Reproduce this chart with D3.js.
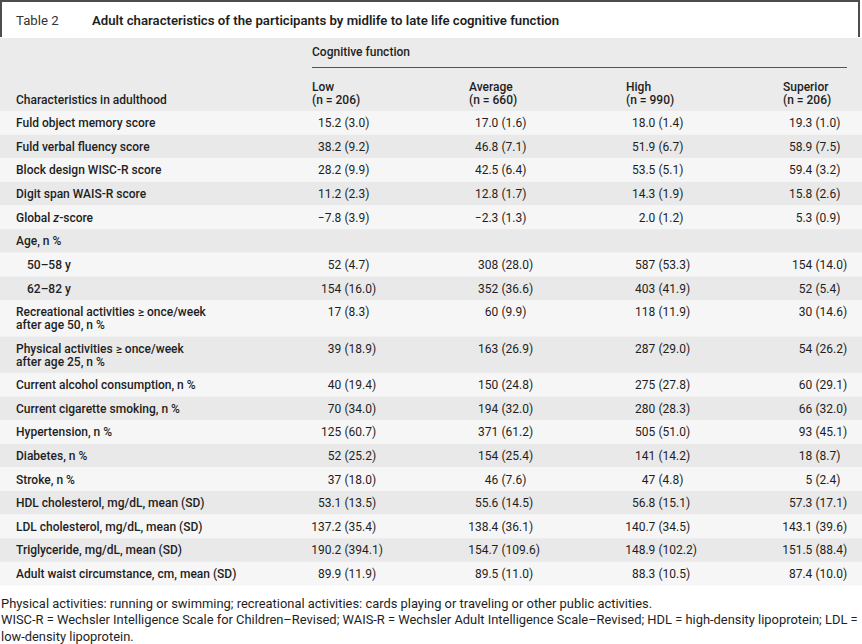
<!DOCTYPE html>
<html>
<head>
<meta charset="utf-8">
<script src="https://cdn.jsdelivr.net/npm/d3@7"></script>
<style>
  html, body { margin: 0; padding: 0; background: #fff; }
  svg { display: block; }
  text { font-family: Roboto, "Liberation Sans", sans-serif; fill: #1e1e1e; }
</style>
</head>
<body>
<svg id="chart" width="862" height="644"></svg>
<script>
// ---------- data ----------
const tableNumber = "Table 2";
const tableTitle = "Adult characteristics of the participants by midlife to late life cognitive function";
const spannerLabel = "Cognitive function";
const stubHeader = "Characteristics in adulthood";
const columns = ["Low", "Average", "High", "Superior"];
const columnN = [206, 660, 990, 206];

const rowLabels = [
  "Fuld object memory score",
  "Fuld verbal fluency score",
  "Block design WISC-R score",
  "Digit span WAIS-R score",
  "Global |z|-score",
  "Age, n %",
  "50–58 y",
  "62–82 y",
  "Recreational activities ≥ once/week\nafter age 50, n %",
  "Physical activities ≥ once/week\nafter age 25, n %",
  "Current alcohol consumption, n %",
  "Current cigarette smoking, n %",
  "Hypertension, n %",
  "Diabetes, n %",
  "Stroke, n %",
  "HDL cholesterol, mg/dL, mean (SD)",
  "LDL cholesterol, mg/dL, mean (SD)",
  "Triglyceride, mg/dL, mean (SD)",
  "Adult waist circumstance, cm, mean (SD)"
];
const rowLevel = [0,0,0,0,0,0,1,1,0,0,0,0,0,0,0,0,0,0,0];

const lowValues = ["15.2 (3.0)","38.2 (9.2)","28.2 (9.9)","11.2 (2.3)","−7.8 (3.9)","","52 (4.7)","154 (16.0)","17 (8.3)","39 (18.9)","40 (19.4)","70 (34.0)","125 (60.7)","52 (25.2)","37 (18.0)","53.1 (13.5)","137.2 (35.4)","190.2 (394.1)","89.9 (11.9)"];
const averageValues = ["17.0 (1.6)","46.8 (7.1)","42.5 (6.4)","12.8 (1.7)","−2.3 (1.3)","","308 (28.0)","352 (36.6)","60 (9.9)","163 (26.9)","150 (24.8)","194 (32.0)","371 (61.2)","154 (25.4)","46 (7.6)","55.6 (14.5)","138.4 (36.1)","154.7 (109.6)","89.5 (11.0)"];
const highValues = ["18.0 (1.4)","51.9 (6.7)","53.5 (5.1)","14.3 (1.9)","2.0 (1.2)","","587 (53.3)","403 (41.9)","118 (11.9)","287 (29.0)","275 (27.8)","280 (28.3)","505 (51.0)","141 (14.2)","47 (4.8)","56.8 (15.1)","140.7 (34.5)","148.9 (102.2)","88.3 (10.5)"];
const superiorValues = ["19.3 (1.0)","58.9 (7.5)","59.4 (3.2)","15.8 (2.6)","5.3 (0.9)","","154 (14.0)","52 (5.4)","30 (14.6)","54 (26.2)","60 (29.1)","66 (32.0)","93 (45.1)","18 (8.7)","5 (2.4)","57.3 (17.1)","143.1 (39.6)","151.5 (88.4)","87.4 (10.0)"];

const footnotes = [
  "Physical activities: running or swimming; recreational activities: cards playing or traveling or other public activities.",
  "WISC-R = Wechsler Intelligence Scale for Children–Revised; WAIS-R = Wechsler Adult Intelligence Scale–Revised; HDL = high-density lipoprotein; LDL =",
  "low-density lipoprotein."
];

// ---------- layout ----------
const W = 862, H = 644;
const svg = d3.select("#chart");
const valueCols = [lowValues, averageValues, highValues, superiorValues];

const bodyTop = 111, bodyBottom = 585.5, headerTop = 38;
const lineCount = rowLabels.map(l => l.split("\n").length);
const rowUnits = lineCount.map(n => 1 + (n - 1) * 0.542);
const cum = [0];
rowUnits.forEach((u, i) => cum.push(cum[i] + u));
const y = d3.scaleLinear().domain([0, cum[cum.length - 1]]).range([bodyTop, bodyBottom]);

const x = d3.scaleBand().domain(columns).range([312, 312 + 157 * 4]).padding(0);
const stubX = 16;

// title box
svg.append("rect").attr("x", 0).attr("y", 0).attr("width", W).attr("height", 37).attr("fill", "#fff");
svg.append("path")
  .attr("d", "M1,37 V1 H859 V37")
  .attr("fill", "none").attr("stroke", "#4d4d4d").attr("stroke-width", 2);
svg.append("text").attr("x", 16).attr("y", 24.5)
  .style("font-size", "13.2px").style("fill", "#333").text(tableNumber);
svg.append("text").attr("x", 92).attr("y", 24.5)
  .style("font-size", "13.2px").style("font-weight", 600).text(tableTitle);

// header background
svg.append("rect").attr("x", 0).attr("y", headerTop).attr("width", W).attr("height", bodyTop - headerTop).attr("fill", "#ebebeb");

// row stripes
svg.selectAll("rect.row").data(rowLabels).join("rect")
  .attr("class", "row")
  .attr("x", 0).attr("width", W)
  .attr("y", (d, i) => y(cum[i]))
  .attr("height", (d, i) => y(cum[i + 1]) - y(cum[i]))
  .attr("fill", (d, i) => i % 2 === 0 ? "#f6f6f6" : "#e9e9e9");

// header text
svg.append("text").attr("x", x(columns[0])).attr("y", 56)
  .style("font-size", "12px").style("font-weight", 500).text(spannerLabel);
svg.append("line")
  .attr("x1", x(columns[0])).attr("x2", 847)
  .attr("y1", 67.5).attr("y2", 67.5)
  .attr("stroke", "#555").attr("stroke-width", 1);
svg.append("text").attr("x", stubX).attr("y", 103.5)
  .style("font-size", "12px").style("font-weight", 500).text(stubHeader);
const hdr = svg.selectAll("g.colhdr").data(columns).join("g").attr("class", "colhdr");
hdr.append("text").attr("x", d => x(d)).attr("y", 91)
  .style("font-size", "12px").style("font-weight", 500).text(d => d);
hdr.append("text").attr("x", d => x(d)).attr("y", 103.5)
  .style("font-size", "12px").style("font-weight", 500).text((d, i) => `(n = ${columnN[i]})`);

// row labels
const firstBase = 16.2, lineStep = 13;
svg.selectAll("text.rowlabel").data(rowLabels).join("text")
  .attr("class", "rowlabel")
  .style("font-size", "12px").style("font-weight", 500)
  .each(function (d, i) {
    const t = d3.select(this);
    const top = y(cum[i]);
    d.split("\n").forEach((line, j) => {
      const xx = stubX + rowLevel[i] * 11;
      const parts = line.split("|");
      parts.forEach((p, k) => {
        const ts = t.append("tspan").text(p);
        if (k === 0) ts.attr("x", xx).attr("y", top + firstBase + j * lineStep);
        if (k % 2 === 1) ts.style("font-style", "italic");
      });
    });
  });

// values: mean right-aligned before the paren, SD from the paren
const parenOffset = 32.5, gap = 3.2;
columns.forEach((c, ci) => {
  const vals = valueCols[ci];
  const g = svg.append("g");
  vals.forEach((v, i) => {
    if (!v) return;
    const idx = v.indexOf(" (");
    const mean = v.slice(0, idx), sd = v.slice(idx + 1);
    const base = y(cum[i]) + firstBase;
    const px = x(c) + parenOffset;
    g.append("text").attr("x", px - gap).attr("y", base)
      .attr("text-anchor", "end").style("font-size", "12px").text(mean);
    g.append("text").attr("x", px).attr("y", base)
      .style("font-size", "12px").text(sd);
  });
});

// footnotes
svg.selectAll("text.fn").data(footnotes).join("text")
  .attr("class", "fn")
  .attr("x", 1).attr("y", (d, i) => 607.5 + i * 16.5)
  .style("font-size", "12.9px").text(d => d);
</script>
</body>
</html>
